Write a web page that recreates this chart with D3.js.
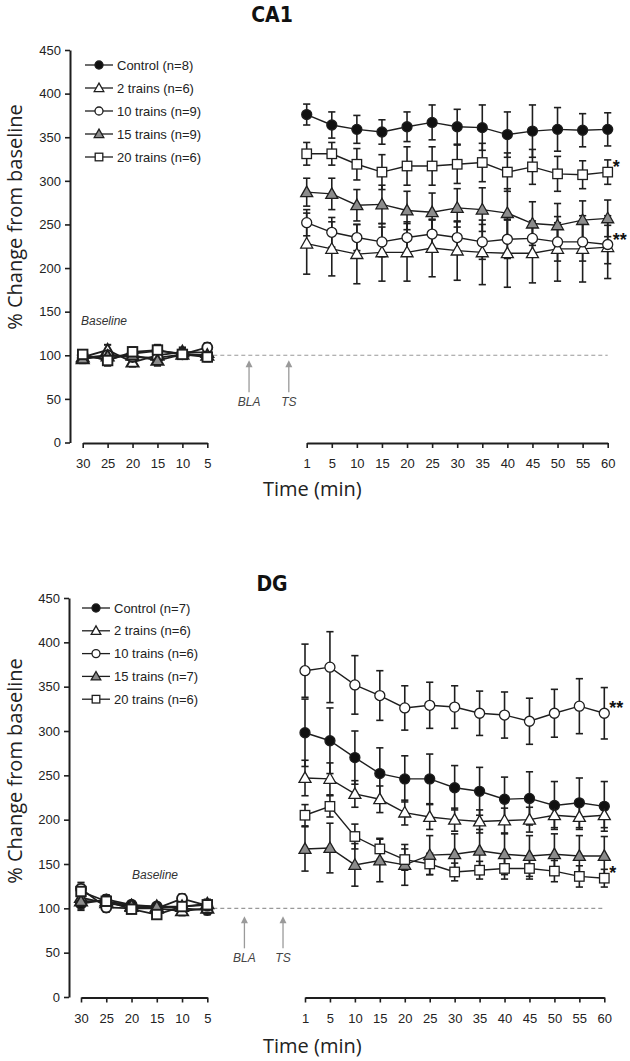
<!DOCTYPE html>
<html><head><meta charset="utf-8">
<script src="https://cdn.jsdelivr.net/npm/d3@7"></script>
<style>body{margin:0;background:#fff}</style>
</head><body><svg id="c" width="630" height="1061"></svg>
<script>
// ---------- DATA ----------
const baselineTimes = [30, 25, 20, 15, 10, 5];
const postTimes = [1, 5, 10, 15, 20, 25, 30, 35, 40, 45, 50, 55, 60];
const yTicks = [0, 50, 100, 150, 200, 250, 300, 350, 400, 450];
const groupNames = ["Control", "2 trains", "10 trains", "15 trains", "20 trains"];
const ca1N = [8, 6, 9, 9, 6];
const dgN = [7, 6, 6, 7, 6];

// CA1 baseline
const ca1ControlBase = [100, 95, 102, 105, 102, 100];
const ca1T2Base      = [98, 106, 92, 100, 104, 103];
const ca1T10Base     = [97, 100, 98, 97, 101, 109];
const ca1T15Base     = [96, 99, 100, 94, 101, 100];
const ca1T20Base     = [101, 94, 104, 106, 101, 98];
const ca1BaseErr     = [5, 6, 5, 6, 5, 5];
// CA1 post
const ca1ControlPost = [376, 364, 359, 356, 362, 367, 362, 361, 353, 357, 359, 358, 359];
const ca1ControlErr  = [12, 15, 16, 14, 17, 20, 20, 26, 26, 30, 25, 19, 19];
const ca1T2Post      = [228, 222, 216, 218, 218, 223, 220, 218, 217, 217, 222, 222, 224];
const ca1T2Err       = [35, 31, 34, 33, 33, 33, 34, 37, 39, 34, 37, 38, 36];
const ca1T10Post     = [252, 241, 235, 230, 235, 239, 235, 230, 233, 234, 230, 230, 227];
const ca1T10Err      = [15, 17, 15, 17, 18, 16, 18, 20, 22, 20, 22, 22, 22];
const ca1T15Post     = [287, 285, 272, 273, 266, 264, 269, 267, 263, 251, 249, 255, 257];
const ca1T15Err      = [16, 18, 18, 22, 22, 22, 22, 25, 28, 25, 25, 22, 21];
const ca1T20Post     = [331, 331, 319, 310, 317, 317, 319, 321, 310, 316, 308, 307, 310];
const ca1T20Err      = [13, 13, 18, 20, 22, 22, 22, 22, 22, 20, 20, 16, 14];

// DG baseline
const dgControlBase = [105, 110, 104, 102, 100, 98];
const dgT2Base      = [112, 106, 102, 100, 97, 100];
const dgT10Base     = [122, 101, 100, 100, 111, 103];
const dgT15Base     = [108, 108, 103, 102, 102, 105];
const dgT20Base     = [119, 108, 99, 93, 102, 104];
const dgBaseErr     = [7, 5, 4, 4, 5, 5];
// DG post
const dgControlPost = [298, 289, 270, 252, 246, 246, 236, 232, 223, 224, 216, 219, 215];
const dgControlErr  = [38, 37, 30, 29, 26, 28, 25, 27, 25, 30, 27, 28, 28];
const dgT2Post      = [247, 246, 229, 223, 208, 203, 200, 198, 199, 200, 205, 203, 205];
const dgT2Err       = [20, 18, 15, 15, 14, 14, 13, 13, 14, 14, 14, 14, 14];
const dgT10Post     = [368, 372, 352, 340, 326, 329, 327, 320, 318, 311, 320, 328, 320];
const dgT10Err      = [30, 40, 33, 28, 25, 26, 24, 25, 26, 26, 27, 31, 29];
const dgT15Post     = [167, 168, 149, 154, 149, 160, 161, 165, 161, 159, 161, 159, 159];
const dgT15Err      = [25, 28, 24, 24, 23, 22, 23, 24, 23, 23, 23, 23, 22];
const dgT20Post     = [205, 215, 181, 167, 155, 150, 141, 143, 145, 145, 142, 136, 134];
const dgT20Err      = [12, 12, 14, 12, 12, 12, 10, 10, 12, 12, 12, 12, 10];

// ---------- STYLE ----------
const groupStyles = [
  {shape: "circle", fill: "#111"},
  {shape: "triangle", fill: "#fff"},
  {shape: "circle", fill: "#fff"},
  {shape: "triangle", fill: "#8c8c8c"},
  {shape: "square", fill: "#fff"}
];
const INK = "#1e1e1e";
const SANS = "'Liberation Sans', Arial, sans-serif";
const HUM = "'Open Sans', 'Noto Sans', sans-serif";

const svg = d3.select("#c");

function drawMarker(g, shape, fill, cx, cy, s, sw) {
  sw = sw || 1.3;
  if (shape === "circle") {
    g.append("circle").attr("cx", cx).attr("cy", cy).attr("r", 5 * s)
      .attr("fill", fill).attr("stroke", INK).attr("stroke-width", sw);
  } else if (shape === "square") {
    const a = 9.5 * s;
    g.append("rect").attr("x", cx - a / 2).attr("y", cy - a / 2).attr("width", a).attr("height", a)
      .attr("fill", fill).attr("stroke", INK).attr("stroke-width", sw);
  } else {
    const w = 12 * s, h = 10.5 * s;
    const p = d3.path();
    p.moveTo(cx, cy - h * 0.58); p.lineTo(cx + w / 2, cy + h * 0.42); p.lineTo(cx - w / 2, cy + h * 0.42); p.closePath();
    g.append("path").attr("d", p.toString())
      .attr("fill", fill).attr("stroke", INK).attr("stroke-width", sw).attr("stroke-linejoin", "miter");
  }
}

function drawPanel(cfg) {
  const g = svg.append("g");
  const y = d3.scaleLinear().domain([0, 450]).range([cfg.bottom, cfg.top]);
  const xb = d3.scalePoint().domain(baselineTimes).range(cfg.baseRange);
  const xp = d3.scalePoint().domain(postTimes).range(cfg.postRange);

  // title
  g.append("text").attr("x", 272).attr("y", cfg.titleY).attr("text-anchor", "middle")
    .attr("font-family", "'Liberation Sans Narrow', 'DejaVu Sans Condensed', sans-serif")
    .attr("font-weight", "bold").attr("font-size", 21).attr("fill", "#111").text(cfg.title);

  // y axis
  const ya = g.append("g").attr("transform", `translate(${cfg.yAxisX},0)`)
    .call(d3.axisLeft(y).tickValues(yTicks).tickSize(5).tickPadding(4).tickSizeOuter(0));
  ya.select(".domain").attr("stroke", INK).attr("stroke-width", 2);
  ya.selectAll(".tick line").attr("stroke", INK).attr("stroke-width", 1.6);
  ya.selectAll(".tick text").attr("font-family", SANS).attr("font-size", 13).attr("fill", "#222");

  // x axes
  [xb, xp].forEach(sc => {
    const xa = g.append("g").attr("transform", `translate(0,${cfg.bottom + 0.5})`)
      .call(d3.axisBottom(sc).tickSize(5).tickPadding(11).tickSizeOuter(0));
    xa.select(".domain").attr("stroke", INK).attr("stroke-width", 2);
    xa.selectAll(".tick line").attr("stroke", INK).attr("stroke-width", 1.6);
    xa.selectAll(".tick text").attr("font-family", SANS).attr("font-size", 13).attr("fill", "#222");
  });

  // axis titles
  g.append("text").attr("transform", `translate(22,${cfg.yLabelY}) rotate(-90)`)
    .attr("text-anchor", "middle").attr("font-family", HUM).attr("font-size", 20).attr("fill", "#222")
    .text("% Change from baseline");
  g.append("text").attr("x", 263).attr("y", cfg.bottom + cfg.timeDy)
    .attr("font-family", HUM).attr("font-size", 20).attr("fill", "#222").text("Time (min)");

  // dashed 100% line
  g.append("line").attr("x1", cfg.baseRange[1] + 6).attr("x2", cfg.postRange[1])
    .attr("y1", y(100)).attr("y2", y(100))
    .attr("stroke", "#999").attr("stroke-width", 1.1).attr("stroke-dasharray", "4,3");

  // arrows
  const gap = cfg.postRange[0] - cfg.baseRange[1];
  [["BLA", cfg.blaF], ["TS", cfg.tsF]].forEach(([lab, f]) => {
    const ax = cfg.baseRange[1] + gap * f;
    const y0 = y(100) + cfg.arrowGap;
    g.append("line").attr("x1", ax).attr("x2", ax).attr("y1", y0 + 4).attr("y2", y0 + 32)
      .attr("stroke", "#9a9a9a").attr("stroke-width", 1.3);
    g.append("path").attr("d", `M${ax},${y0} L${ax + 3.5},${y0 + 7} L${ax - 3.5},${y0 + 7} Z`).attr("fill", "#9a9a9a");
    g.append("text").attr("x", ax).attr("y", y0 + 46).attr("text-anchor", "middle")
      .attr("font-family", SANS).attr("font-style", "italic").attr("font-size", 12).attr("fill", "#444").text(lab);
  });

  // Baseline label
  g.append("text").attr("x", cfg.baselineLabelX).attr("y", cfg.baselineLabelY).attr("text-anchor", "middle")
    .attr("font-family", SANS).attr("font-style", "italic").attr("font-size", 12).attr("fill", "#333").text("Baseline");

  // error bars
  const eg = g.append("g").attr("stroke", INK);
  function errBars(sc, times, vals, errs, sw) {
    times.forEach((t, i) => {
      const x = sc(t), lo = y(vals[i] - errs[i]), hi = y(vals[i] + errs[i]);
      eg.append("line").attr("x1", x).attr("x2", x).attr("y1", lo).attr("y2", hi).attr("stroke-width", sw);
      eg.append("line").attr("x1", x - 3.6).attr("x2", x + 3.6).attr("y1", lo).attr("y2", lo).attr("stroke-width", sw);
      eg.append("line").attr("x1", x - 3.6).attr("x2", x + 3.6).attr("y1", hi).attr("y2", hi).attr("stroke-width", sw);
    });
  }
  cfg.series.forEach(s => {
    errBars(xb, baselineTimes, s.base, s.baseErr, 2);
    errBars(xp, postTimes, s.post, s.err, 1.6);
  });

  // lines + markers
  const line = d3.line().x(d => d[0]).y(d => d[1]);
  cfg.series.forEach((s, k) => {
    const st = groupStyles[k];
    const sg = g.append("g");
    const bpts = baselineTimes.map((t, i) => [xb(t), y(s.base[i])]);
    const ppts = postTimes.map((t, i) => [xp(t), y(s.post[i])]);
    sg.append("path").attr("d", line(bpts)).attr("fill", "none").attr("stroke", INK).attr("stroke-width", 1.8);
    bpts.forEach(p => drawMarker(sg, st.shape, st.fill, p[0], p[1], 1, 1.9));
    sg.append("path").attr("d", line(ppts)).attr("fill", "none").attr("stroke", INK).attr("stroke-width", 1.4);
    ppts.forEach(p => drawMarker(sg, st.shape, st.fill, p[0], p[1], 1, 1.3));
  });

  // significance stars
  cfg.stars.forEach(([k, txt]) => {
    const s = cfg.series[k];
    g.append("text").attr("x", cfg.postRange[1] + 5).attr("y", y(s.post[s.post.length - 1]) + 1)
      .attr("font-family", SANS).attr("font-weight", "bold").attr("font-size", 18).attr("fill", "#111").text(txt);
  });

  // legend
  const lg = g.append("g");
  groupNames.forEach((name, k) => {
    const ly = cfg.legendY + k * cfg.legendStep;
    const st = groupStyles[k];
    lg.append("line").attr("x1", cfg.legendX).attr("x2", cfg.legendX + 28).attr("y1", ly).attr("y2", ly)
      .attr("stroke", INK).attr("stroke-width", 1.3);
    drawMarker(lg, st.shape, st.fill, cfg.legendX + 14, ly, 0.8);
    lg.append("text").attr("x", cfg.legendX + 32).attr("y", ly + 4.6)
      .attr("font-family", SANS).attr("font-size", 13).attr("fill", "#222")
      .text(`${name} (n=${cfg.n[k]})`);
  });
}

drawPanel({
  title: "CA1", titleY: 22, top: 50, bottom: 442.5, yAxisX: 70,
  baseRange: [82.7, 207.3], postRange: [306.7, 607.7],
  yLabelY: 217, timeDy: 53, blaF: 0.42, tsF: 0.82, arrowGap: 5,
  baselineLabelX: 104, baselineLabelY: 325,
  legendX: 85, legendY: 65, legendStep: 23, n: ca1N,
  stars: [[4, "*"], [2, "**"]],
  series: [
    {base: ca1ControlBase, baseErr: ca1BaseErr, post: ca1ControlPost, err: ca1ControlErr},
    {base: ca1T2Base, baseErr: ca1BaseErr, post: ca1T2Post, err: ca1T2Err},
    {base: ca1T10Base, baseErr: ca1BaseErr, post: ca1T10Post, err: ca1T10Err},
    {base: ca1T15Base, baseErr: ca1BaseErr, post: ca1T15Post, err: ca1T15Err},
    {base: ca1T20Base, baseErr: ca1BaseErr, post: ca1T20Post, err: ca1T20Err}
  ]
});

drawPanel({
  title: "DG", titleY: 591, top: 598, bottom: 997, yAxisX: 69,
  baseRange: [81, 207.3], postRange: [305, 604.3],
  yLabelY: 771, timeDy: 56, blaF: 0.38, tsF: 0.775, arrowGap: 8,
  baselineLabelX: 155, baselineLabelY: 879,
  legendX: 82, legendY: 608, legendStep: 22.8, n: dgN,
  stars: [[2, "**"], [4, "*"]],
  series: [
    {base: dgControlBase, baseErr: dgBaseErr, post: dgControlPost, err: dgControlErr},
    {base: dgT2Base, baseErr: dgBaseErr, post: dgT2Post, err: dgT2Err},
    {base: dgT10Base, baseErr: dgBaseErr, post: dgT10Post, err: dgT10Err},
    {base: dgT15Base, baseErr: dgBaseErr, post: dgT15Post, err: dgT15Err},
    {base: dgT20Base, baseErr: dgBaseErr, post: dgT20Post, err: dgT20Err}
  ]
});
</script>
</body></html>
